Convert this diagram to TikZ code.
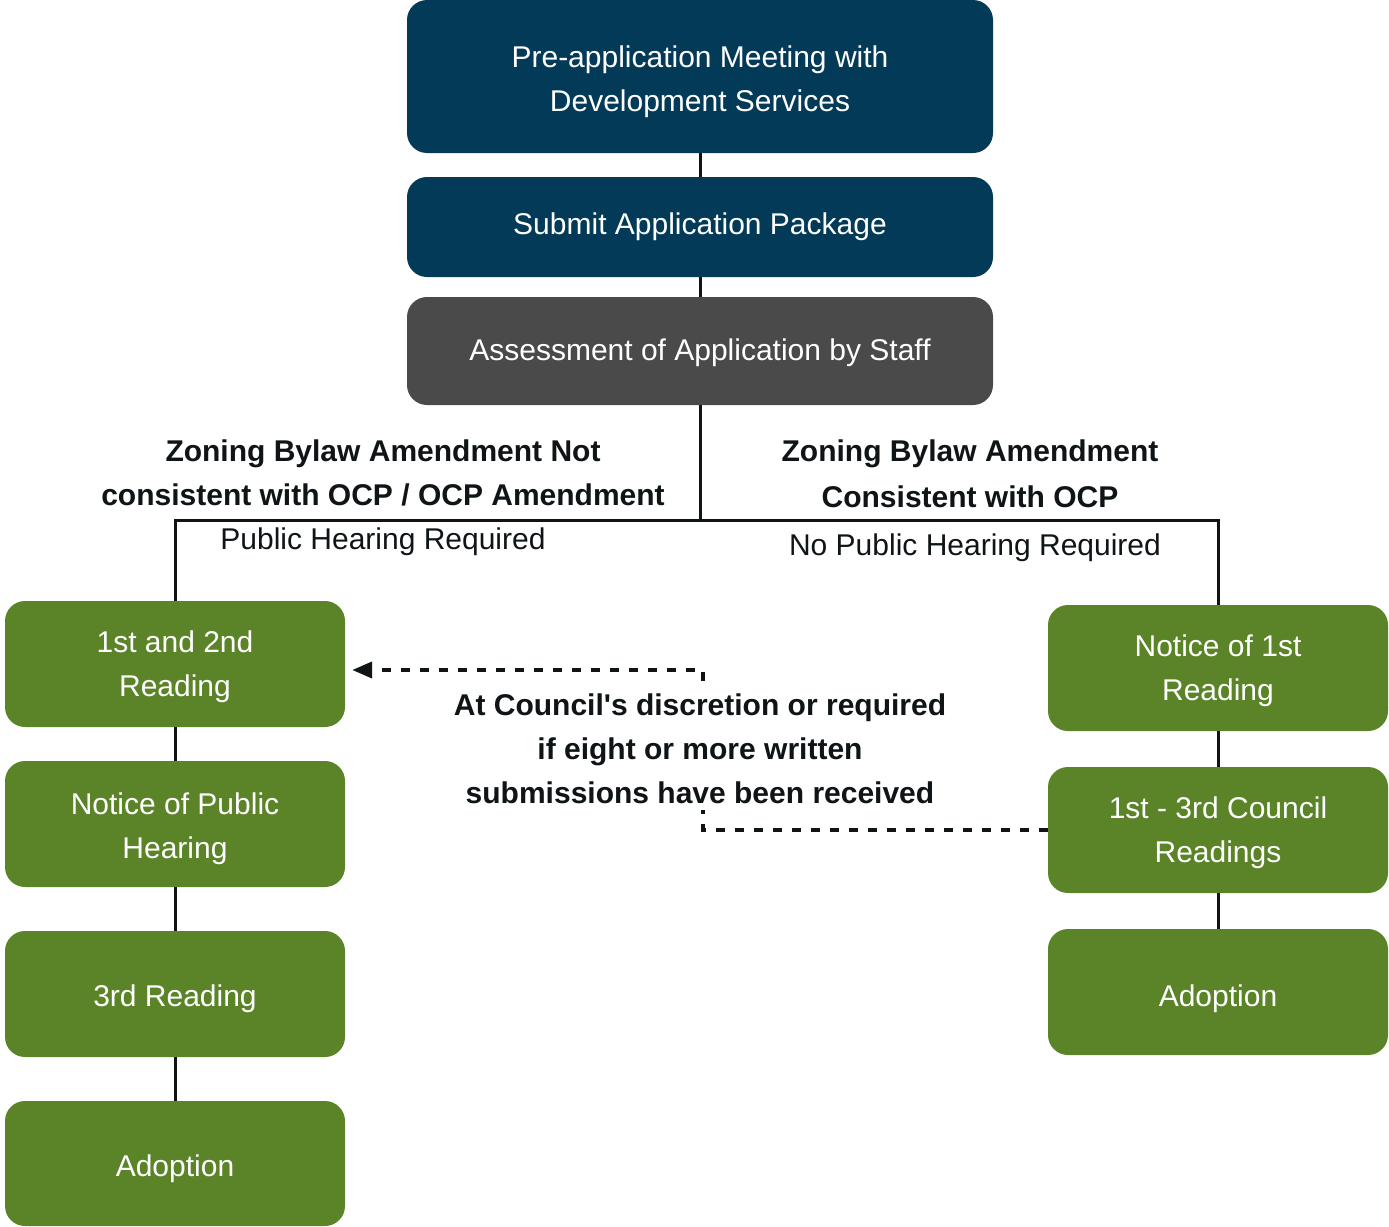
\documentclass[tikz,border=0pt]{standalone}
\usepackage{fontspec}
\setmainfont{Liberation Sans}
\usetikzlibrary{arrows.meta}
\definecolor{navy}{RGB}{2,58,88}
\definecolor{slate}{RGB}{74,74,74}
\definecolor{leaf}{RGB}{91,132,41}
\definecolor{ink}{RGB}{15,20,23}
\newcommand\lowtxt[2][3pt]{\raisebox{-#1}[\height][\depth]{\begin{tabular}{@{}c@{}}#2\end{tabular}}}
\tikzset{
  box/.style={rounded corners=20pt, text=white, inner sep=0pt,
    font=\fontsize{30}{44}\selectfont},
  topbox/.style={box, fill=navy, minimum width=586pt},
  greybox/.style={box, fill=slate, minimum width=586pt},
  greenbox/.style={box, fill=leaf, minimum width=340pt, minimum height=126pt},
  link/.style={line width=3pt, draw=ink},
  dashlink/.style={line width=4pt, draw=ink, dash pattern=on 9pt off 10pt},
  head/.style={align=center, text=ink, font=\fontsize{30}{44}\selectfont\bfseries, inner sep=0pt},
  note/.style={align=center, text=ink, font=\fontsize{30}{44}\selectfont, inner sep=0pt},
}
\begin{document}
\begin{tikzpicture}[x=1pt,y=-1pt]
\useasboundingbox (0,0) rectangle (1389,1226);
% top chain
\node[topbox, minimum height=153pt] (pre) at (700,76.5) {\lowtxt[4pt]{Pre-application Meeting with\\Development Services}};
\node[topbox, minimum height=100pt] (sub) at (700,227) {\lowtxt[-1pt]{Submit Application Package}};
\node[greybox, minimum height=108pt] (ass) at (700,351) {\lowtxt[1pt]{Assessment of Application by Staff}};
% left chain
\node[greenbox] (l1) at (175,664) {\lowtxt[2pt]{1st and 2nd\\Reading}};
\node[greenbox] (l2) at (175,824) {\lowtxt[4pt]{Notice of Public\\Hearing}};
\node[greenbox] (l3) at (175,994) {\lowtxt[4pt]{3rd Reading}};
\node[greenbox, minimum height=125pt] (l4) at (175,1163.5) {\lowtxt[4pt]{Adoption}};
% right chain
\node[greenbox] (r1) at (1218,668) {\lowtxt[2pt]{Notice of 1st\\Reading}};
\node[greenbox] (r2) at (1218,830) {\lowtxt[2pt]{1st - 3rd Council\\Readings}};
\node[greenbox] (r3) at (1218,992) {\lowtxt[6pt]{Adoption}};
% junction
\coordinate (j) at (700,520);
% connectors
\draw[link] (pre.south) -- (sub.north);
\draw[link] (sub.south) -- (ass.north);
\draw[link] (ass.south) -- (j);
\draw[link] (l1.north) -- (l1.north |- j) -- (r1.north |- j) -- (r1.north);
\draw[link] (l1.south) -- (l2.north);
\draw[link] (l2.south) -- (l3.north);
\draw[link] (l3.south) -- (l4.north);
\draw[link] (r1.south) -- (r2.north);
\draw[link] (r2.south) -- (r3.north);
% dashed optional path
\coordinate (dv) at (703,830);
\draw[dashlink, -{Triangle[length=20pt,width=16pt]}, shorten >=7pt]
  (r2.west |- dv) -- (dv) -- (703,670) -- (l1.east |- 0,670);
% labels
\node[head] (hl) at (383,473) {Zoning Bylaw Amendment Not\\consistent with OCP / OCP Amendment};
\node[note] (nl) at (383,542) {Public Hearing Required};
\node[head, font=\fontsize{30}{46}\selectfont\bfseries] (hr) at (970,474) {Zoning Bylaw Amendment\\Consistent with OCP};
\node[note] (nr) at (975,548) {No Public Hearing Required};
\node[head, fill=white, inner xsep=4pt, inner ysep=6pt] (dn) at (700,749) {At Council\textquotesingle s discretion or required\\if eight or more written\\submissions have been received};
\end{tikzpicture}
\end{document}
